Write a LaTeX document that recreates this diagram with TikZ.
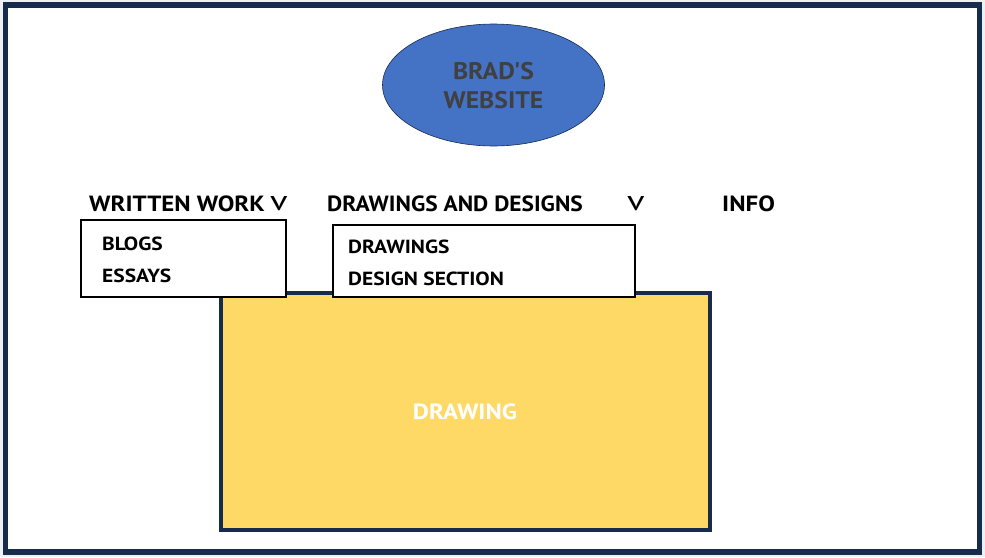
\documentclass[tikz,border=0pt]{standalone}
\usepackage{fontspec}
\setmainfont{PT Sans}[FakeStretch=1.13]
\newfontfamily\titlefont{PT Sans}[FakeStretch=1.07]
\newfontfamily\ddfont{PT Sans}[FakeStretch=1.065]
\newfontfamily\chevfont{PT Sans}[FakeStretch=1.3]
\usetikzlibrary{shapes.geometric}
\definecolor{navy}{HTML}{172B4D}
\definecolor{bgrey}{HTML}{EEF1F4}
\definecolor{blueell}{HTML}{4472C4}
\definecolor{yell}{HTML}{FFD966}
\definecolor{dgrey}{HTML}{404040}
\tikzset{
  menu/.style={anchor=base west, inner sep=0pt, font=\fontsize{22}{24}\selectfont\bfseries, text=black},
  chev/.style={anchor=base west, inner sep=0pt, font=\chevfont\fontsize{28}{28}\selectfont, text=black},
  sub/.style={anchor=base west, inner sep=0pt, font=\fontsize{19}{21}\selectfont\bfseries, text=black},
  ddbox/.style={draw=black, line width=2pt, fill=white},
}
\begin{document}
\begin{tikzpicture}[x=1pt,y=-1pt]
\useasboundingbox (0,0) rectangle (985,557);
\fill[bgrey] (0,0) rectangle (985,557);
\draw[navy, line width=5.5pt, fill=white] (5.5,5) rectangle (979.5,552);
% title ellipse
\node[ellipse, draw=navy, line width=0.6pt, fill=blueell, minimum width=222pt, minimum height=122pt, inner sep=0pt] (title) at (493.5,85) {};
\node[text=dgrey, font=\titlefont\fontsize{24}{29}\selectfont\bfseries, align=center, inner sep=0pt] (titletext) at (493.5,86) {BRAD'S\\WEBSITE};
% drawing area
\node[draw=navy, line width=4pt, fill=yell, minimum width=489pt, minimum height=237pt, inner sep=0pt] (canvas) at (465.5,411.5) {};
\node[text=white, font=\fontsize{22}{24}\selectfont\bfseries, inner sep=0pt] (drawlabel) at (465,412) {DRAWING};
% menu
\node[menu] (written) at (89,211) {WRITTEN WORK};
\node[chev] (chev1) at (270,210) {v};
\node[menu, font=\ddfont\fontsize{22}{24}\selectfont\bfseries] (drawdes) at (327,211) {DRAWINGS AND DESIGNS};
\node[chev] (chev2) at (627,210) {v};
\node[menu] (info) at (722,211) {INFO};
% dropdowns
\node[ddbox, minimum width=205pt, minimum height=77pt, inner sep=0pt] (dd1) at (183.5,258.5) {};
\node[sub] (blogs) at (102,250) {BLOGS};
\node[sub] (essays) at (102,282) {ESSAYS};
\node[ddbox, minimum width=302pt, minimum height=72pt, inner sep=0pt] (dd2) at (484,261) {};
\node[sub] (drawings) at (348,253) {DRAWINGS};
\node[sub] (design) at (348,285) {DESIGN SECTION};
\end{tikzpicture}
\end{document}
